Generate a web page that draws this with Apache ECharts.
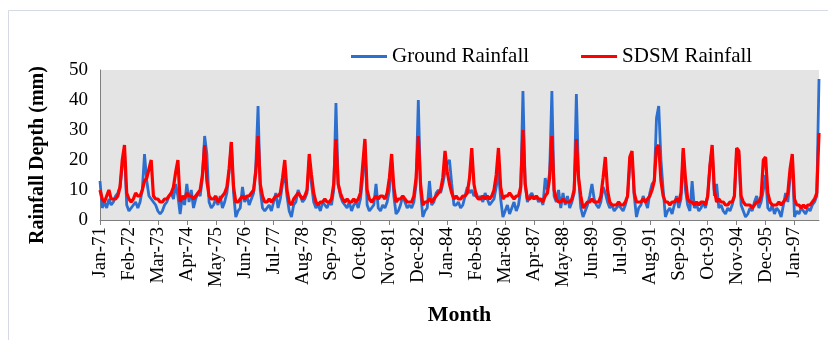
<!DOCTYPE html>
<html>
<head>
<meta charset="utf-8">
<script src="https://cdn.jsdelivr.net/npm/echarts@6/dist/echarts.min.js"></script>
<style>
  html, body { margin: 0; padding: 0; background: #fff; }
  #chart { width: 828px; height: 340px; }
</style>
</head>
<body>
<div id="chart"></div>
<script>
// monthly rainfall, Jan-1971 .. Dec-1997, one row per year
const ground = [
  13, 4, 6, 4, 7, 5, 6, 8, 9, 11, 18, 23,
  5, 3, 4, 5, 6, 4, 6, 10, 22, 13, 8, 7,
  6, 5, 3, 2, 3, 5, 6, 8, 9, 7, 12, 8,
  2, 8, 5, 12, 6, 10, 4, 7, 9, 8, 14, 28,
  22, 6, 4, 5, 7, 5, 8, 4, 6, 9, 16, 26,
  9, 1, 3, 4, 11, 6, 8, 5, 7, 9, 18, 38,
  10, 4, 3, 4, 5, 3, 6, 9, 4, 7, 12, 16,
  8, 3, 1, 5, 6, 10, 8, 6, 7, 9, 20, 12,
  6, 4, 5, 3, 6, 5, 4, 6, 5, 10, 39, 12,
  8, 6, 5, 4, 6, 3, 5, 6, 4, 7, 14, 26,
  5, 3, 4, 5, 12, 4, 3, 5, 4, 6, 10, 20,
  8, 2, 3, 5, 8, 6, 4, 5, 4, 6, 12, 40,
  10, 1, 3, 4, 13, 5, 6, 9, 10, 9, 12, 16,
  19, 20, 12, 5, 5, 6, 4, 5, 8, 11, 9, 10,
  8, 9, 7, 8, 6, 9, 7, 5, 6, 7, 11, 16,
  7, 1, 3, 5, 2, 4, 6, 3, 5, 10, 43, 12,
  6, 8, 9, 7, 8, 6, 7, 5, 14, 10, 16, 43,
  8, 6, 10, 4, 9, 5, 8, 4, 6, 9, 42, 14,
  4, 1, 3, 5, 8, 12, 7, 5, 4, 6, 11, 9,
  6, 4, 5, 3, 4, 5, 4, 3, 5, 8, 18, 21,
  8, 1, 4, 5, 8, 6, 4, 9, 12, 13, 34, 38,
  20, 10, 1, 3, 4, 2, 5, 8, 4, 7, 23, 10,
  5, 3, 13, 4, 5, 3, 4, 6, 4, 8, 18, 24,
  8, 12, 4, 5, 3, 2, 4, 3, 5, 8, 23, 22,
  5, 3, 1, 2, 4, 3, 6, 8, 4, 6, 10, 15,
  4, 3, 5, 2, 4, 3, 1, 5, 9, 6, 14, 20,
  1, 3, 2, 4, 3, 2, 4, 3, 5, 6, 8, 47,
];

const sdsm = [
  10, 7, 6, 8, 10, 7, 7, 7, 8, 11, 20, 25,
  9, 7, 6, 7, 9, 8, 8, 10, 13, 14, 17, 20,
  8, 7, 7, 6, 6, 7, 7, 8, 9, 11, 16, 20,
  6, 8, 7, 9, 8, 8, 7, 8, 9, 10, 15, 25,
  13, 8, 7, 7, 8, 6, 7, 8, 9, 11, 17, 26,
  11, 6, 6, 7, 8, 7, 8, 8, 9, 10, 16, 28,
  12, 8, 6, 6, 7, 6, 7, 8, 8, 9, 14, 20,
  10, 6, 5, 7, 8, 9, 8, 7, 8, 10, 22, 15,
  9, 6, 5, 6, 6, 7, 6, 6, 7, 12, 27, 12,
  9, 7, 6, 7, 6, 6, 7, 6, 7, 9, 18, 27,
  10, 7, 6, 7, 8, 7, 8, 8, 7, 9, 14, 22,
  11, 6, 7, 7, 8, 7, 6, 6, 6, 8, 14, 28,
  12, 5, 6, 6, 7, 6, 7, 8, 9, 10, 14, 23,
  16, 12, 9, 7, 8, 7, 7, 8, 8, 9, 14, 24,
  12, 8, 7, 7, 8, 7, 8, 7, 8, 10, 15, 24,
  11, 7, 8, 8, 9, 8, 7, 8, 8, 11, 30, 12,
  7, 7, 8, 7, 8, 7, 7, 6, 8, 9, 14, 28,
  10, 7, 6, 6, 7, 6, 6, 6, 7, 10, 27, 14,
  8, 4, 5, 6, 6, 7, 6, 6, 6, 8, 14, 21,
  10, 6, 5, 5, 5, 6, 5, 5, 6, 8, 21, 23,
  9, 6, 6, 6, 7, 6, 7, 8, 10, 13, 24, 25,
  13, 8, 6, 6, 5, 6, 6, 7, 6, 9, 24, 14,
  7, 6, 6, 5, 6, 5, 6, 6, 5, 8, 18, 25,
  10, 6, 7, 6, 6, 5, 5, 6, 6, 8, 24, 23,
  8, 6, 5, 5, 5, 4, 5, 6, 6, 8, 20, 21,
  9, 6, 5, 5, 5, 6, 5, 6, 7, 9, 17, 22,
  7, 5, 5, 4, 5, 4, 5, 5, 6, 7, 9, 29,
];

const MONTHS = ["Jan", "Feb", "Mar", "Apr", "May", "Jun", "Jul", "Aug", "Sep", "Oct", "Nov", "Dec"];
const FIRST_YEAR = 1971;
const months = ground.map((_, i) => `${MONTHS[i % 12]}-${String((FIRST_YEAR + Math.floor(i / 12)) % 100).padStart(2, "0")}`);

const SERIF = "'Liberation Serif', 'Times New Roman', serif";
const BLUE = "#2c6fce";
const RED = "#ff0000";
const AXIS = "#7f7f7f";

const chart = echarts.init(document.getElementById("chart"), null, { renderer: "canvas" });
chart.setOption({
  animation: false,
  backgroundColor: "#fff",
  graphic: [
    { type: "line", shape: { x1: 8.5, y1: 10.5, x2: 8.5, y2: 340 }, style: { stroke: "#d5dae5", lineWidth: 1 } },
    { type: "line", shape: { x1: 8.5, y1: 10.5, x2: 828, y2: 10.5 }, style: { stroke: "#d5dae5", lineWidth: 1 } },
  ],
  legend: {
    left: 346,
    top: 41,
    icon: "rect",
    itemWidth: 36,
    itemHeight: 3,
    itemGap: 52,
    textStyle: { fontFamily: SERIF, fontSize: 21, color: "#000" },
    data: ["Ground Rainfall", "SDSM Rainfall"],
  },
  grid: {
    left: 100,
    right: 9,
    top: 70,
    bottom: 120,
    show: true,
    backgroundColor: "#e4e4e4",
    borderWidth: 0,
  },
  xAxis: {
    type: "category",
    data: months,
    boundaryGap: false,
    axisLine: { lineStyle: { color: AXIS, width: 1 } },
    axisTick: { show: true, interval: 12, length: 5, lineStyle: { color: AXIS } },
    axisLabel: { interval: 12, rotate: 90, margin: 7, fontFamily: SERIF, fontSize: 19, color: "#000" },
    splitLine: { show: false },
    name: "Month",
    nameLocation: "middle",
    nameGap: 84,
    nameTextStyle: { fontFamily: SERIF, fontSize: 22, fontWeight: "bold", color: "#000" },
  },
  yAxis: {
    type: "value",
    min: 0,
    max: 50,
    interval: 10,
    axisLine: { show: true, lineStyle: { color: AXIS, width: 1 } },
    axisTick: { show: false },
    axisLabel: { margin: 12, fontFamily: SERIF, fontSize: 19, color: "#000" },
    splitLine: { show: false },
    name: "Rainfall Depth (mm)",
    nameLocation: "middle",
    nameGap: 52,
    nameTextStyle: { fontFamily: SERIF, fontSize: 20, fontWeight: "bold", color: "#000", padding: [0, 20, 0, 0] },
  },
  series: [
    {
      name: "Ground Rainfall",
      type: "line",
      data: ground,
      showSymbol: false,
      symbol: "none",
      lineStyle: { color: BLUE, width: 2.8 },
      itemStyle: { color: BLUE },
    },
    {
      name: "SDSM Rainfall",
      type: "line",
      data: sdsm,
      showSymbol: false,
      symbol: "none",
      lineStyle: { color: RED, width: 3.2 },
      itemStyle: { color: RED },
    },
  ],
});
</script>
</body>
</html>
